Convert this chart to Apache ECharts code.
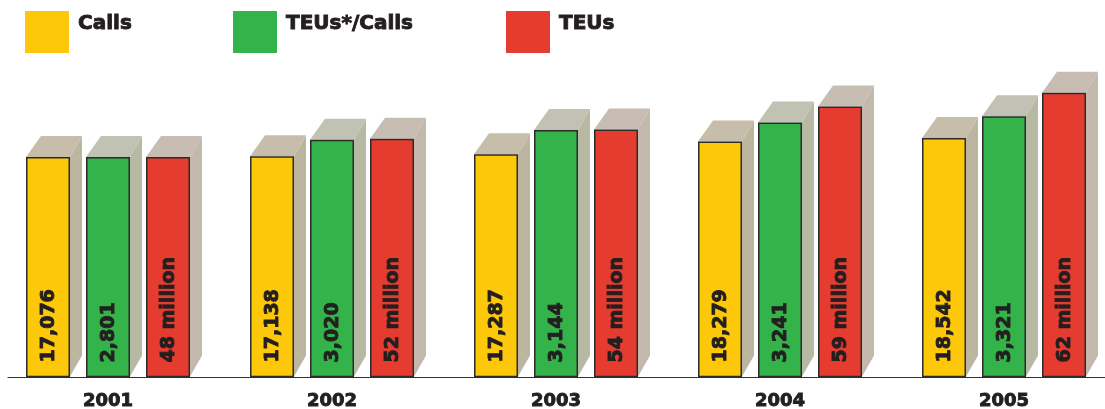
<!DOCTYPE html>
<html>
<head>
<meta charset="utf-8">
<script src="https://cdn.jsdelivr.net/npm/echarts@6/dist/echarts.min.js"></script>
<style>
  html, body { margin: 0; padding: 0; background: #fff; }
  #chart { width: 1105px; height: 409px; }
</style>
</head>
<body>
<div id="chart"></div>
<script>
// data
var years = ['2001', '2002', '2003', '2004', '2005'];
var calls = [17076, 17138, 17287, 18279, 18542];
var teusPerCall = [2801, 3020, 3144, 3241, 3321];
var teus = [48, 52, 54, 59, 62];   // million

var FONT = '"DejaVu Sans", sans-serif';
var INK = '#231f20';
var gridTop = 60, gridBottom = 32;
var plotH = 409 - gridTop - gridBottom;
var firstH = 220;          // pixel height of the 2001 bars (all series start level)
var scale = plotH / firstH;

// draws one 3d-looking bar: front face + top + right side, with rotated label
function makeRender(offset, topCol, sideCol, fmt) {
    return function (params, api) {
        var base = api.coord([api.value(0), 0]);
        var head = api.coord([api.value(0), api.value(1)]);
        var L = base[0] + offset - 22, R = L + 44;
        var B = base[1] - 0.5, T = head[1];
        var dy = -21;
        return {
            type: 'group',
            children: [
                { type: 'polygon', shape: { points: [[L, T], [L + 15, T + dy], [R + 12, T + dy], [R, T]] },
                  style: { fill: topCol } },
                { type: 'polygon', shape: { points: [[R, T], [R + 12, T + dy], [R + 12, B + dy], [R, B]] },
                  style: { fill: sideCol } },
                { type: 'rect', shape: { x: L + 0.75, y: T + 0.75, width: 42.5, height: B - T - 0.75 },
                  style: { fill: api.visual('color'), stroke: '#2b2b2b', lineWidth: 1.5 } },
                { type: 'text', x: (L + R) / 2 + 1, y: B - 14, rotation: Math.PI / 2,
                  style: { text: fmt(api.value(1)), fill: INK, font: 'bold 19px ' + FONT,
                           stroke: INK, lineWidth: 0.9,
                           textAlign: 'left', textVerticalAlign: 'middle' } }
            ]
        };
    };
}

function pairs(arr) {
    return arr.map(function (v, i) { return [i, v]; });
}

function legendAt(name, left) {
    return {
        data: [name], left: left, top: 11, padding: 0,
        icon: 'rect', itemWidth: 44, itemHeight: 42, selectedMode: false,
        formatter: '{name}\n ',
        textStyle: { fontFamily: FONT, fontWeight: 'bold', fontSize: 20, lineHeight: 17, color: INK,
                     textBorderColor: INK, textBorderWidth: 0.9, padding: [0, 0, 0, 4] }
    };
}

var chart = echarts.init(document.getElementById('chart'), null, { renderer: 'canvas' });

chart.setOption({
    animation: false,
    legend: [legendAt('Calls', 25), legendAt('TEUs*/Calls', 233), legendAt('TEUs', 506)],
    grid: [
        { left: -4, width: 1120, top: gridTop, bottom: gridBottom, outerBoundsMode: 'none' },
        { left: 8, right: 0, top: gridTop, bottom: gridBottom, outerBoundsMode: 'none' }
    ],
    xAxis: [
        { type: 'category', gridIndex: 0, data: years,
          axisLine: { show: false }, axisTick: { show: false },
          axisLabel: { margin: 15, fontFamily: FONT, fontWeight: 'bold', fontSize: 18, color: INK,
                       textBorderColor: INK, textBorderWidth: 0.9 } },
        { type: 'value', gridIndex: 1, min: 0, max: 1,
          axisLine: { show: true, onZero: false, lineStyle: { color: '#333', width: 1.2 } },
          axisTick: { show: false }, axisLabel: { show: false }, splitLine: { show: false } }
    ],
    yAxis: [
        { type: 'value', gridIndex: 0, min: 0, max: calls[0] * scale, show: false },
        { type: 'value', gridIndex: 0, min: 0, max: teusPerCall[0] * scale, show: false },
        { type: 'value', gridIndex: 0, min: 0, max: teus[0] * scale, show: false },
        { type: 'value', gridIndex: 1, show: false }
    ],
    series: [
        { name: 'Calls', type: 'custom', xAxisIndex: 0, yAxisIndex: 0,
          itemStyle: { color: '#fec80a' }, data: pairs(calls),
          renderItem: makeRender(-60, '#c6bdab', '#bcb6a0', function (v) { return v.toLocaleString('en-US'); }) },
        { name: 'TEUs*/Calls', type: 'custom', xAxisIndex: 0, yAxisIndex: 1,
          itemStyle: { color: '#33b34a' }, data: pairs(teusPerCall),
          renderItem: makeRender(0, '#c1c2b4', '#b8b9a3', function (v) { return v.toLocaleString('en-US'); }) },
        { name: 'TEUs', type: 'custom', xAxisIndex: 0, yAxisIndex: 2,
          itemStyle: { color: '#e63c2f' }, data: pairs(teus),
          renderItem: makeRender(60, '#c7bdb3', '#c3b8ac', function (v) { return v + ' million'; }) }
    ]
});

window.addEventListener('resize', function () {
    chart.resize();
});
</script>
</body>
</html>
